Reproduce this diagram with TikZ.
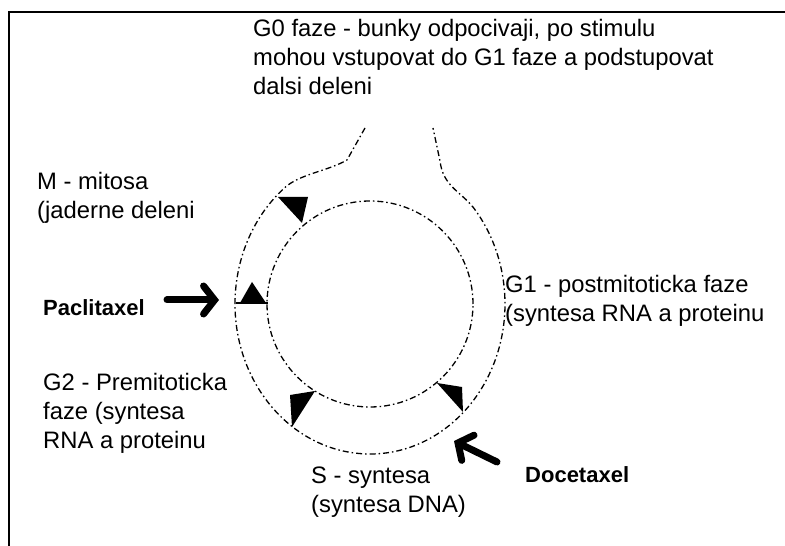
\documentclass[tikz,border=0pt]{standalone}
\usepackage{fontspec}
\setmainfont{Liberation Sans}
\usetikzlibrary{arrows.meta}

\tikzset{
  ring/.style={line width=1.3pt, dash pattern=on 6pt off 3pt on 1.5pt off 3pt},
  phase/.style={anchor=north west, inner sep=0pt, align=left, font=\fontsize{23.8}{29}\selectfont},
  drug/.style={anchor=west, inner sep=0pt, font=\fontsize{22}{26}\selectfont\bfseries},
  drugarrow/.style={line width=7pt, line cap=round, -{Straight Barb[length=11pt,width=28pt,line cap=round]}},
  head/.style={fill=black}
}

\begin{document}
\begin{tikzpicture}[x=1pt,y=1pt]
  \useasboundingbox (0,0) rectangle (785,546);
  \draw[line width=2.5pt] (9,0) -- (9,534) -- (785,534);
  \draw[ring] (370,242) circle (103);
  \draw[ring] (365,418) -- (347,386) .. controls (328,375) and (300,372) .. (285.04,358.57)
    arc[start angle=129, end angle=400, x radius=135, y radius=150]
    .. controls (460,355) and (443,360) .. (440,385) -- (433,418);
  \fill[head] (278,349) -- (308,349) -- (302,323) -- cycle;
  \draw[line width=1.3pt] (236,243) -- (268,243);
  \fill[head] (240,243) -- (266,243) -- (252,264) -- cycle;
  \fill[head] (290,151) -- (315,155) -- (292,119) -- cycle;
  \fill[head] (437,163) -- (462,159) -- (463,134) -- cycle;
  \node[phase] (gzero) at (253,527) {G0 faze - bunky odpocivaji, po stimulu\\mohou vstupovat do G1 faze a podstupovat\\dalsi deleni};
  \node[phase] (mito) at (37,374) {M - mitosa\\(jaderne deleni};
  \node[phase] (gone) at (505,271) {G1 - postmitoticka faze\\(syntesa RNA a proteinu};
  \node[phase] (gtwo) at (43,173) {G2 - Premitoticka\\faze (syntesa\\RNA a proteinu};
  \node[phase] (synth) at (311,79) {S - syntesa\\(syntesa DNA)};
  \node[drug] (pacli) at (43,238) {Paclitaxel};
  \node[drug] (doce) at (525,71) {Docetaxel};
  \coordinate (pactail) at (167,246);
  \coordinate (pactip) at (219,246);
  \coordinate (doctail) at (497,84);
  \coordinate (doctip) at (454,105);
  \draw[drugarrow] (pactail) -- (pactip);
  \draw[drugarrow] (doctail) -- (doctip);
\end{tikzpicture}
\end{document}
